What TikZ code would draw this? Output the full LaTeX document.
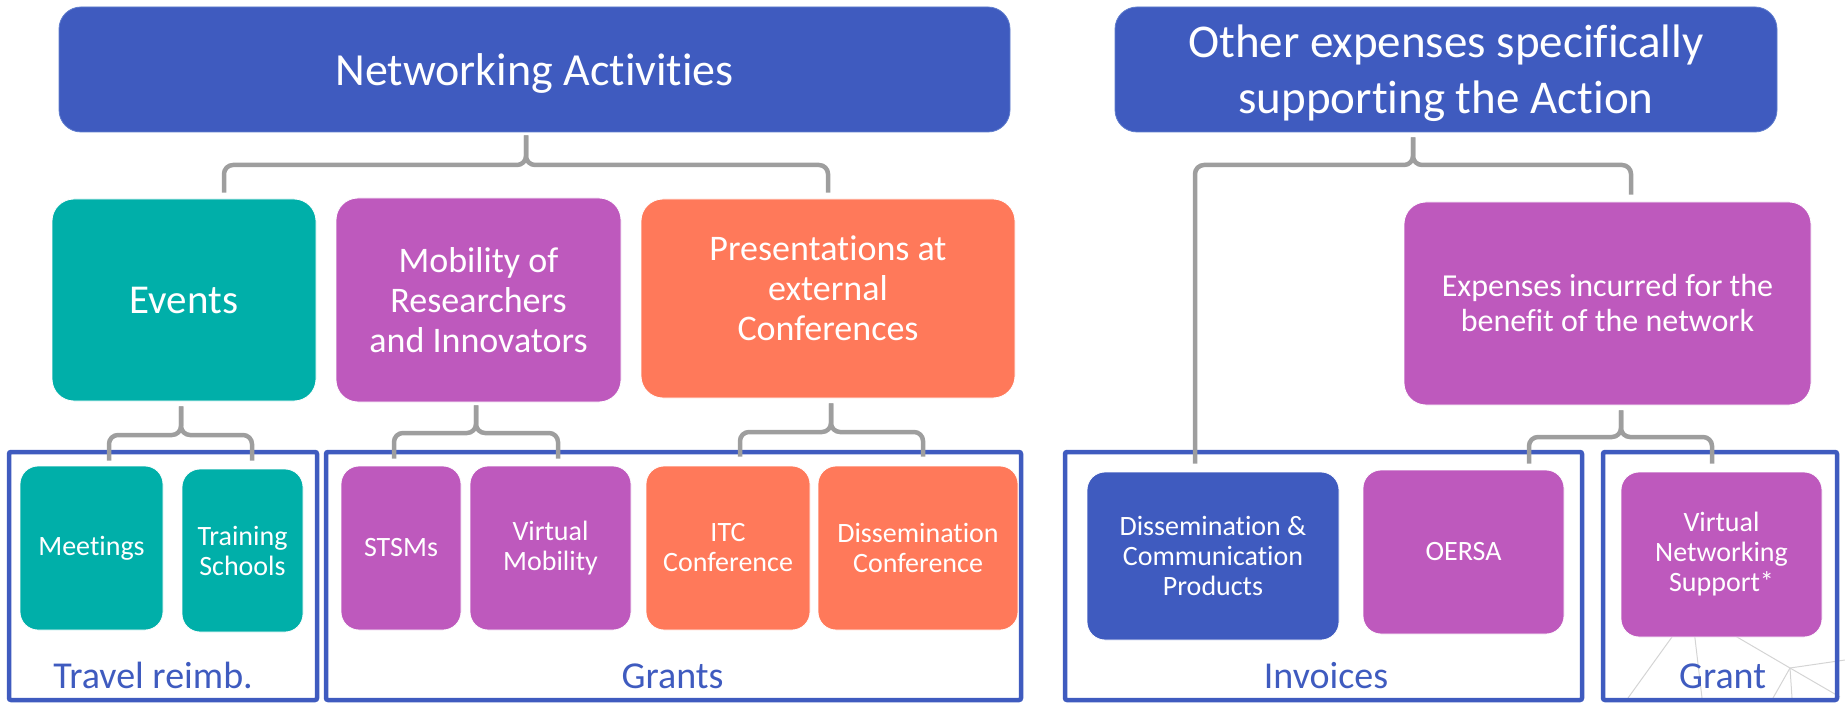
\documentclass[tikz,border=0pt]{standalone}
\usepackage{fontspec}
\setmainfont{Carlito}[Ligatures=NoCommon]
\definecolor{cblue}{RGB}{63,91,191}
\definecolor{cteal}{RGB}{0,175,169}
\definecolor{cpurple}{RGB}{190,89,189}
\definecolor{corange}{RGB}{255,121,90}
\definecolor{cgray}{RGB}{158,158,158}
\definecolor{cdeco}{RGB}{212,212,212}
\begin{document}
\begin{tikzpicture}[x=1pt,y=-1pt,
  boxbase/.style={text=white, align=center, inner sep=0pt, draw=white, line width=0.8pt},
  topbox/.style={boxbase, fill=cblue, draw={rgb,255:red,95;green,125;blue,205}, rounded corners=22pt},
  midbox/.style={boxbase, rounded corners=22pt},
  leafbox/.style={boxbase, rounded corners=18pt, font=\fontsize{28pt}{30pt}\selectfont},
  frame/.style={draw=cblue, line width=4.5pt, rounded corners=2pt, inner sep=0pt, minimum height=248pt},
  lbl/.style={text=cblue, anchor=base, inner sep=0pt, font=\fontsize{38pt}{40pt}\selectfont},
  brace/.style={draw=cgray, line width=4.5pt, rounded corners=9pt},
  deco/.style={draw=cdeco, line width=1pt}
]
\useasboundingbox (0,0) rectangle (1845,703);

% faint background network lines
\draw[deco] (1677,630) -- (1628,698);
\draw[deco] (1694,630) -- (1702,698);
\draw[deco] (1725,630) -- (1790,668) -- (1845,660);
\draw[deco] (1790,668) -- (1773,698);
\draw[deco] (1790,668) -- (1792,698);
\draw[deco] (1790,668) -- (1840,697);

% frames
\node[frame, minimum width=308pt] (FT) at (163,576) {};
\node[frame, minimum width=695pt] (FG) at (673.5,576) {};
\node[frame, minimum width=517pt] (FI) at (1323.5,576) {};
\node[frame, minimum width=234pt] (FR) at (1720,576) {};
\node[lbl] (lT) at (153,688) {Travel reimb.};
\node[lbl] (lG) at (672.5,688) {Grants};
\node[lbl] (lI) at (1326,688) {Invoices};
\node[lbl] (lR) at (1722.5,688) {Grant};

% top boxes
\node[topbox, minimum width=951pt, minimum height=125pt, text depth=0pt, font=\fontsize{46pt}{55pt}\selectfont] (NA) at (534.5,69.5) {Networking Activities};
\node[topbox, minimum width=662pt, minimum height=125pt, text depth=0pt, font=\fontsize{47pt}{56pt}\selectfont] (OT) at (1446,69.5) {Other expenses specifically\\supporting the Action};

% second level
\node[midbox, fill=cteal, minimum width=264pt, minimum height=202pt, font=\fontsize{41pt}{45pt}\selectfont] (EV) at (184,300) {Events};
\node[midbox, fill=cpurple, minimum width=285pt, minimum height=204pt, font=\fontsize{36pt}{40pt}\selectfont] (MO) at (478.5,300) {Mobility of\\Researchers\\and Innovators};
\node[midbox, fill=corange, minimum width=374pt, minimum height=199pt, text depth=20pt, font=\fontsize{36pt}{40pt}\selectfont] (PR) at (828,298.5) {Presentations at\\external\\Conferences};
\node[midbox, fill=cpurple, minimum width=407pt, minimum height=203pt, font=\fontsize{32pt}{35pt}\selectfont] (EX) at (1607.5,303.5) {Expenses incurred for the\\benefit of the network};

% leaves
\node[leafbox, fill=cteal, minimum width=143pt, minimum height=164pt] (ME) at (91.5,548) {Meetings};
\node[leafbox, fill=cteal, minimum width=121pt, minimum height=163pt] (TS) at (242.5,550.5) {Training\\Schools};
\node[leafbox, fill=cpurple, minimum width=120pt, minimum height=164pt] (ST) at (401,548) {STSMs};
\node[leafbox, fill=cpurple, minimum width=161pt, minimum height=164pt] (VM) at (550.5,548) {Virtual\\Mobility};
\node[leafbox, fill=corange, minimum width=164pt, minimum height=164pt] (IT) at (728,548) {ITC\\Conference};
\node[leafbox, fill=corange, minimum width=200pt, minimum height=164pt] (DC) at (918,548) {Dissemination\\Conference};
\node[leafbox, fill=cblue, minimum width=252pt, minimum height=168pt] (DP) at (1213,556) {Dissemination \&\\Communication\\Products};
\node[leafbox, fill=cpurple, minimum width=201pt, minimum height=164pt] (OE) at (1463.5,552) {OERSA};
\node[leafbox, fill=cpurple, minimum width=201pt, minimum height=165pt] (VN) at (1721.5,554.5) {Virtual\\Networking\\Support*};

% brackets
\coordinate (jNA) at (526,165);
\draw[brace] (NA.south -| jNA) ++(0,3) -- (jNA) -| ([xshift=40pt,yshift=6pt]EV.north);
\draw[brace] (NA.south -| jNA) ++(0,3) -- (jNA) -| ([yshift=6pt]PR.north);

\coordinate (jOT) at (1413,165);
\draw[brace] (OT.south -| jOT) ++(0,5) -- (jOT) -| ([xshift=-18pt,yshift=8pt]DP.north);
\draw[brace] (OT.south -| jOT) ++(0,5) -- (jOT) -| ([xshift=23.5pt,yshift=7pt]EX.north);

\coordinate (jEV) at (181,435);
\draw[brace] (EV.south -| jEV) ++(0,5) -- (jEV) -| ([xshift=17.5pt,yshift=5pt]ME.north);
\draw[brace] (EV.south -| jEV) ++(0,5) -- (jEV) -| ([xshift=9.5pt,yshift=8pt]TS.north);

\coordinate (jMO) at (476,433);
\draw[brace] (MO.south -| jMO) ++(0,3) -- (jMO) -| ([xshift=-7pt,yshift=7pt]ST.north);
\draw[brace] (MO.south -| jMO) ++(0,3) -- (jMO) -| ([xshift=7.5pt,yshift=7pt]VM.north);

\coordinate (jPR) at (831,432);
\draw[brace] (PR.south -| jPR) ++(0,5) -- (jPR) -| ([xshift=12pt,yshift=9pt]IT.north);
\draw[brace] (PR.south -| jPR) ++(0,5) -- (jPR) -| ([xshift=5pt,yshift=9pt]DC.north);

\coordinate (jEX) at (1621,437);
\draw[brace] (EX.south -| jEX) ++(0,5) -- (jEX) -| ([xshift=65.5pt,yshift=6pt]OE.north);
\draw[brace] (EX.south -| jEX) ++(0,5) -- (jEX) -| ([xshift=-9.5pt,yshift=8pt]VN.north);
\end{tikzpicture}
\end{document}
